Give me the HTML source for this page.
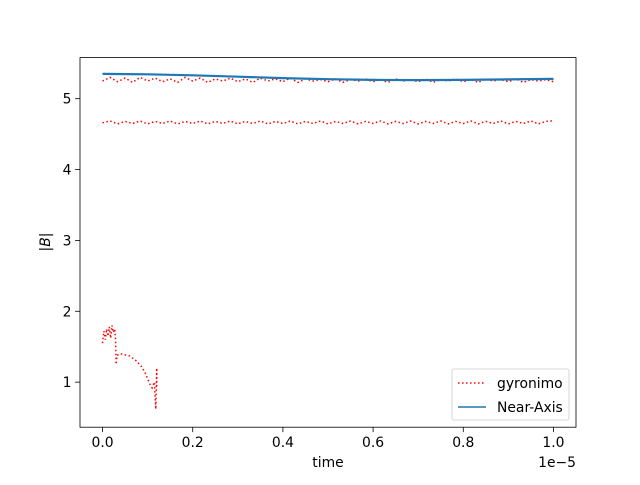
<!DOCTYPE html>
<html><head><meta charset="utf-8"><style>
body{margin:0;background:#fff}
svg{font-family:"DejaVu Sans","Liberation Sans",sans-serif}
</style></head><body>
<svg id="c" width="640" height="480" viewBox="0 0 640 480"></svg>
<script>
const xTicks=[0,0.2,0.4,0.6,0.8,1.0];
const xTickLabels=["0.0","0.2","0.4","0.6","0.8","1.0"];
const yTicks=[1,2,3,4,5];
const yTickLabels=["1","2","3","4","5"];
const lowT=[0,0.003,0.006,0.009,0.012,0.015,0.018,0.021,0.024,0.027,0.029,0.03,0.032,0.04,0.06,0.075,0.085,0.093,0.1,0.105,0.11,0.115,0.118,0.12,0.12];
const lowV=[1.55,1.72,1.6,1.75,1.65,1.78,1.62,1.8,1.7,1.75,1.6,1.25,1.38,1.4,1.37,1.3,1.23,1.15,1.05,0.97,0.92,1.0,0.62,1.2,0.9];
const midV=[4.66,4.685,4.645,4.68,4.65,4.685,4.645,4.68,4.65,4.685,4.645,4.68,4.65,4.685,4.645,4.68,4.65,4.685,4.645,4.68,4.65,4.685,4.645,4.68,4.65,4.685,4.645,4.68,4.65,4.685,4.645,4.68,4.65,4.685,4.645,4.68,4.65,4.685,4.645,4.68,4.65,4.685,4.645,4.68,4.65,4.685,4.645,4.68,4.65,4.685,4.645,4.68,4.65,4.685,4.645,4.68,4.65,4.685,4.645,4.68,4.69];
const topV=[5.25,5.3,5.24,5.29,5.23,5.3,5.25,5.29,5.24,5.28,5.23,5.3,5.25,5.29,5.23,5.28,5.25,5.29,5.24,5.28,5.23,5.29,5.25,5.28,5.24,5.29,5.23,5.28,5.25,5.27,5.24,5.28,5.23,5.27,5.25,5.28,5.24,5.27,5.23,5.28,5.25,5.27,5.24,5.28,5.23,5.27,5.25,5.28,5.24,5.27,5.23,5.28,5.25,5.27,5.24,5.28,5.23,5.27,5.25,5.27,5.24];
const naT=[0,0.1,0.2,0.3,0.4,0.5,0.6,0.7,0.8,0.9,1.0];
const naV=[5.35,5.345,5.33,5.31,5.29,5.275,5.265,5.262,5.265,5.272,5.28];
const X0=80,X1=576,Y0=57.6,Y1=427.2,xmin=-0.05,xmax=1.05,ymin=0.364,ymax=5.58;
const sx=t=>X0+(t-xmin)/(xmax-xmin)*(X1-X0);
const sy=v=>Y1-(v-ymin)/(ymax-ymin)*(Y1-Y0);
const svg=document.getElementById('c');const NS="http://www.w3.org/2000/svg";
function mk(tag,attrs,parent){const e=document.createElementNS(NS,tag);for(const k in attrs)e.setAttribute(k,attrs[k]);(parent||svg).appendChild(e);return e;}
function pts(ts,vs){return ts.map((t,i)=>sx(t).toFixed(1)+","+sy(vs[i]).toFixed(1)).join(" ");}
const evenT=midV.map((_,i)=>i/(midV.length-1));
const s1=mk('polyline',{points:pts(lowT,lowV),fill:'none',stroke:'#ff0000','stroke-width':1.5,'stroke-dasharray':'1.5,2.5'});


const s2=mk('polyline',{points:pts(evenT,midV),fill:'none',stroke:'#ff0000','stroke-width':1.5,'stroke-dasharray':'1.5,2.5'});


const s3=mk('polyline',{points:pts(topV.map((_,i)=>i/(topV.length-1)),topV),fill:'none',stroke:'#ff0000','stroke-width':1.5,'stroke-dasharray':'1.5,2.5'});


const s4=mk('polyline',{points:pts(naT,naV),fill:'none',stroke:'#1f77b4','stroke-width':2.2});


const fr=mk('rect',{x:X0,y:Y0,width:X1-X0,height:Y1-Y0,fill:'none',stroke:'#000','stroke-width':0.8});


xTicks.forEach((t,i)=>{mk('line',{x1:sx(t),x2:sx(t),y1:Y1,y2:Y1+4.9,stroke:'#000','stroke-width':0.8});
const tx=mk('text',{x:sx(t),y:Y1+20,'text-anchor':'middle','font-size':13.9});tx.textContent=xTickLabels[i];

});
yTicks.forEach((v,i)=>{mk('line',{x1:X0,x2:X0-4.9,y1:sy(v),y2:sy(v),stroke:'#000','stroke-width':0.8});
const tx=mk('text',{x:X0-8.5,y:sy(v)+5,'text-anchor':'end','font-size':13.9});tx.textContent=yTickLabels[i];

});
</script>
<svg width="640" height="480" style="position:absolute;left:0;top:0" font-family="DejaVu Sans, Liberation Sans, sans-serif">
<text x="328" y="467" text-anchor="middle" font-size="13.9">time</text>
<text x="576" y="467" text-anchor="end" font-size="13.9">1e−5</text>
<text transform="translate(50,242) rotate(-90)" text-anchor="middle" font-size="13.9">|<tspan font-style="italic">B</tspan>|</text>
<g>
<rect x="452" y="369" width="117" height="51" rx="2" fill="#fff" fill-opacity="0.8" stroke="#ccc" stroke-width="0.8"/>
<line x1="458" y1="383" x2="486" y2="383" stroke="#ff0000" stroke-width="1.5" stroke-dasharray="1.5,2.5"/>
<text x="497" y="388" font-size="13.9">gyronimo</text>
<line x1="458" y1="407" x2="486" y2="407" stroke="#1f77b4" stroke-width="1.5"/>
<text x="497" y="412" font-size="13.9">Near-Axis</text>
</g>
</svg>
</body></html>
